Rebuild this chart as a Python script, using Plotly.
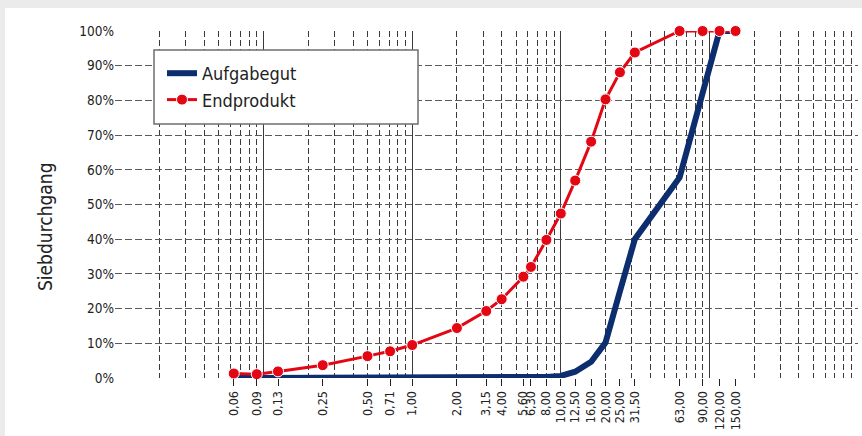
import plotly.graph_objects as go

# ---- data ----
sieve_sizes = [0.063, 0.09, 0.125, 0.25, 0.5, 0.71, 1.0, 2.0, 3.15, 4.0, 5.6, 6.3,
               8.0, 10.0, 12.5, 16.0, 20.0, 25.0, 31.5, 63.0, 90.0, 117.0, 150.0]
tick_labels = ["0,06", "0,09", "0,13", "0,25", "0,50", "0,71", "1,00", "2,00", "3,15",
               "4,00", "5,60", "6,30", "8,00", "10,00", "12,50", "16,00", "20,00",
               "25,00", "31,50", "63,00", "90,00", "120,00", "150,00"]
aufgabegut = [0, 0, 0, 0, 0, 0, 0, 0, 0, 0, 0, 0,
              0.3, 0.6, 1.8, 4.7, 10.2, 25.0, 40.0, 57.8, 82.0, 100, 100]
endprodukt = [1.3, 1.1, 1.9, 3.7, 6.3, 7.7, 9.5, 14.4, 19.3, 22.7, 29.2, 32.0,
              39.8, 47.4, 56.9, 68.1, 80.3, 88.1, 93.8, 100, 100, 100, 100]
y_ticks = list(range(0, 101, 10))
decades = [0.1, 1, 10, 100]
minor_grid = [k * d for d in [0.01, 0.1, 1, 10, 100] for k in range(2, 10)]

# ---- layout constants ----
W, H = 862, 436
ML, MR, MT, MB = 115, 4, 31, 58
PW, PH = W - ML - MR, H - MT - MB
FONT = "Liberation Sans Narrow, Arial Narrow, DejaVu Sans Condensed, sans-serif"
TXT = "#222222"


def px(xp):
    return (xp - ML) / PW


def py(yp):
    return (H - MB - yp) / PH


fig = go.Figure()
fig.add_trace(go.Scatter(
    x=sieve_sizes, y=aufgabegut, name="Aufgabegut", mode="lines",
    line=dict(color="#0c2d6e", width=6), cliponaxis=False))
fig.add_trace(go.Scatter(
    x=sieve_sizes, y=endprodukt, name="Endprodukt", mode="lines+markers",
    line=dict(color="#e30613", width=3),
    marker=dict(size=11, color="#e30613", line=dict(color="white", width=1)),
    cliponaxis=False))
# invisible carrier so the labelled sieve axis is drawn
fig.add_trace(go.Scatter(
    x=sieve_sizes, y=endprodukt, xaxis="x2", mode="markers",
    marker=dict(opacity=0), showlegend=False, hoverinfo="skip"))

fig.update_layout(
    width=W, height=H, autosize=False,
    margin=dict(l=ML, r=MR, t=MT, b=MB, pad=0),
    paper_bgcolor="#ebebeb", plot_bgcolor="white",
    font=dict(family=FONT, color=TXT, size=13),
    showlegend=True,
    legend=dict(x=px(162), y=py(55), xanchor="left", yanchor="top",
                bgcolor="rgba(0,0,0,0)", borderwidth=0,
                font=dict(family=FONT, size=18, color=TXT)),
    xaxis=dict(type="log", range=[-2, 3], tickmode="array", tickvals=decades,
               showticklabels=False, ticks="", showgrid=True,
               gridcolor="#3a3a3a", gridwidth=1,
               minor=dict(tickmode="array", tickvals=minor_grid, showgrid=True,
                          gridcolor="#3a3a3a", gridwidth=1, griddash="6px,3px",
                          ticks=""),
               showline=False, zeroline=False),
    xaxis2=dict(type="log", range=[-2, 3], overlaying="x", anchor="y", side="bottom",
                tickmode="array", tickvals=sieve_sizes, ticktext=tick_labels,
                tickangle=-90, ticks="outside", ticklen=7, tickcolor="#222",
                tickwidth=1, showgrid=False, zeroline=False, showline=False,
                tickfont=dict(family=FONT, size=12.5, color=TXT)),
    yaxis=dict(range=[0, 100], tickmode="array", tickvals=y_ticks,
               ticktext=[f"{v}%" for v in y_ticks], ticks="",
               showgrid=True, gridcolor="#5a5a5a", gridwidth=1, griddash="7px,3px",
               zeroline=False, showline=False,
               tickfont=dict(family=FONT, size=13.5, color=TXT)),
)

# white page area inside gray frame
fig.add_shape(type="rect", xref="paper", yref="paper", layer="below",
              x0=px(5), x1=px(W + 10), y0=py(H + 10), y1=py(8),
              fillcolor="white", line=dict(width=0))
# legend frame
fig.add_shape(type="rect", xref="paper", yref="paper", layer="above",
              x0=px(154), x1=px(418), y0=py(124), y1=py(50),
              fillcolor="white", line=dict(color="#6e6e6e", width=1.5))

fig.add_annotation(text="Siebdurchgang", xref="paper", yref="paper",
                   x=px(45), y=py(227), xanchor="center", yanchor="middle",
                   textangle=-90, showarrow=False,
                   font=dict(family=FONT, size=19, color=TXT))

fig.write_html("out.html", config={"displayModeBar": False},
               post_script="document.body.style.margin='0px';")
